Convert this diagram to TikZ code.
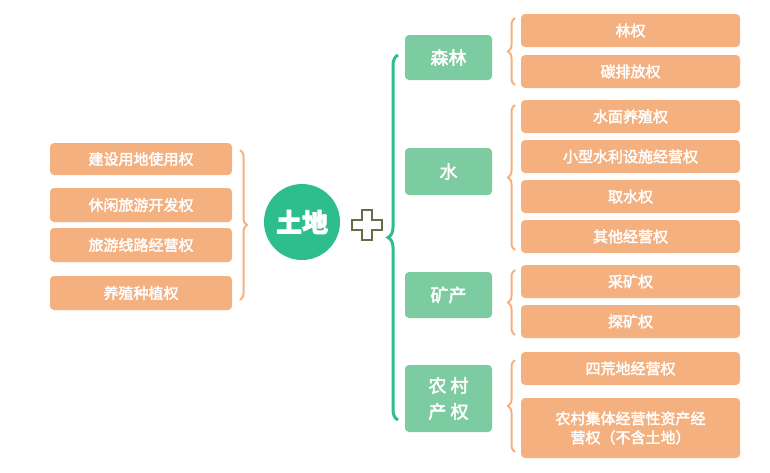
\documentclass[tikz,border=0pt]{standalone}
\usepackage{fontspec}
\newfontfamily\cjk{Noto Sans CJK SC}[FakeBold=2.5]
\usetikzlibrary{decorations.pathreplacing,calc}
\definecolor{peach}{HTML}{F5B07F}
\definecolor{mint}{HTML}{7DCBA0}
\definecolor{jade}{HTML}{2EBD8D}
\definecolor{olive}{HTML}{6B6B4A}
\tikzset{
  right box/.style={fill=peach,rounded corners=4pt,text=white,font=\cjk\fontsize{15}{19}\selectfont,align=center},
  mid box/.style={fill=mint,rounded corners=4pt,text=white,font=\cjk\fontsize{18}{26}\selectfont,align=center},
  obrace/.style={draw=peach,line width=2pt,decorate,decoration={brace,amplitude=7pt}},
  gbrace/.style={draw=jade,line width=3pt,decorate,decoration={brace,amplitude=10pt}}
}
\begin{document}
\begin{tikzpicture}[x=1pt,y=-1pt]
\useasboundingbox (0,0) rectangle (770,472);
% left rights
\foreach \name/\ya/\yb/\txt in {l1/143/175/建设用地使用权,l2/188/222/休闲旅游开发权,l3/228/262/旅游线路经营权,l4/276/310/养殖种植权}
  \node[right box,minimum width=182pt,minimum height={\yb-\ya}] (\name) at (141,{(\ya+\yb)/2}) {\txt};
\draw[obrace] (240,150) -- (240,300);
% centre
\node[circle,fill=jade,minimum size=76pt,text=white,font=\cjk\bfseries\fontsize{26}{30}\selectfont] (land) at (302,222) {土地};
\draw[olive,line width=1.2pt,fill=white]
  (362,210) -- (372,210) -- (372,220) -- (382,220) -- (382,230) -- (372,230) -- (372,240)
  -- (362,240) -- (362,230) -- (352,230) -- (352,220) -- (362,220) -- cycle;
\draw[gbrace] (398,420) -- (398,55);
% categories
\foreach \name/\ya/\yb/\txt in {forest/35/80/森林,water/148/195/水,mine/272/318/矿产,rural/365/432/{农\ 村\\产\ 权}}
  \node[mid box,minimum width=87pt,minimum height={\yb-\ya}] (\name) at (448.5,{(\ya+\yb)/2}) {\txt};
% right rights
\foreach \name/\ya/\yb/\txt in {r1/14/47/林权,r2/55/88/碳排放权,r3/100/133/水面养殖权,r4/140/173/小型水利设施经营权,r5/180/213/取水权,r6/220/253/其他经营权,r7/265/298/采矿权,r8/305/338/探矿权,r9/352/385/四荒地经营权,r10/398/458/{农村集体经营性资产经\\营权（不含土地）}}
  \node[right box,minimum width=219pt,minimum height={\yb-\ya}] (\name) at (630.5,{(\ya+\yb)/2}) {\txt};
\draw[obrace] (515,85) -- (515,18);
\draw[obrace] (515,250) -- (515,105);
\draw[obrace] (515,335) -- (515,270);
\draw[obrace] (515,452) -- (515,360);
\end{tikzpicture}
\end{document}
